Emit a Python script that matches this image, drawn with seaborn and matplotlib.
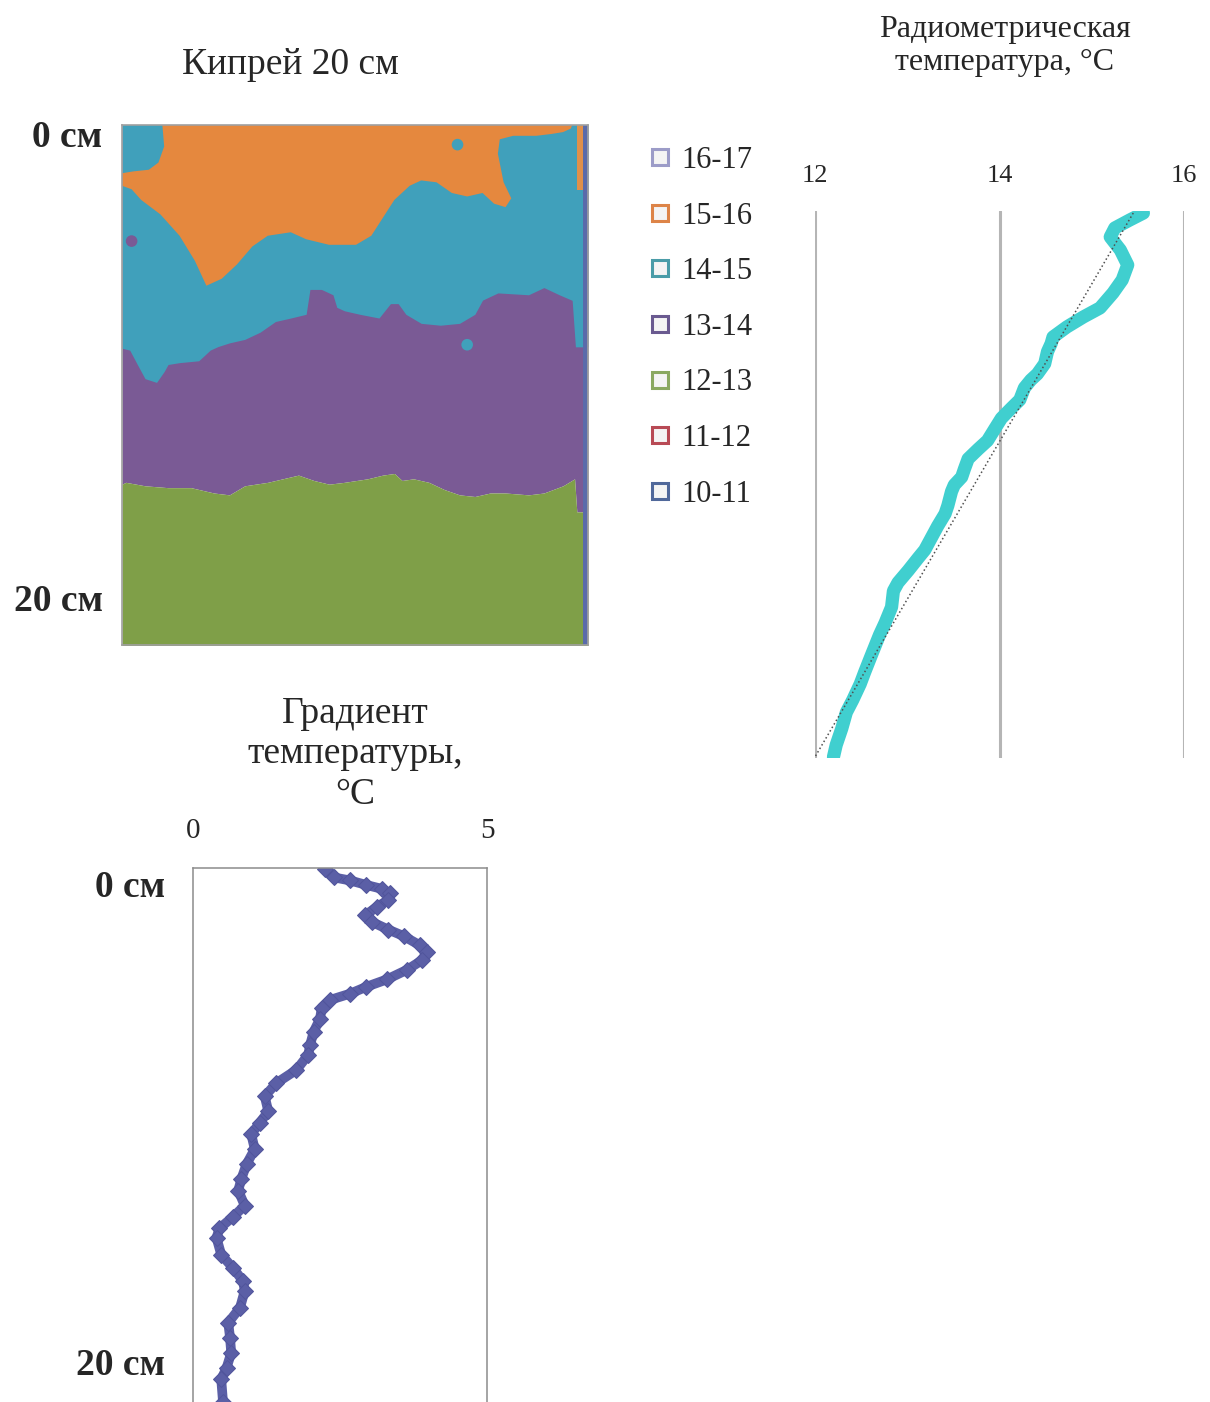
import numpy as np
import matplotlib
matplotlib.use("Agg")
import matplotlib.pyplot as plt
import seaborn as sns
from matplotlib.lines import Line2D

# ---------------- data ----------------
# Legend categories (°C ranges) and their colours
categories = ["16-17", "15-16", "14-15", "13-14", "12-13", "11-12", "10-11"]
legend_edge = ["#9c9cc8", "#dd8448", "#4a9ca8", "#6a5a90", "#8aa860", "#b84a55", "#50689a"]

# Thermal map "Кипрей 20 см": class boundaries, x = % of width, y = depth, cm
# boundary 13-14 / 12-13
pg_x = [0, 0.82, 4.94, 9.88, 14.81, 19.75, 23.05, 26.34, 31.28, 37.86, 41.15, 44.44, 47.74,
        52.67, 55.97, 58.44, 60.08, 62.55, 65.84, 69.14, 72.43, 75.72, 79.01, 82.30, 87.24,
        90.53, 94.65, 97.12, 97.6, 100]
pg_y = [15.11, 15.03, 15.18, 15.26, 15.26, 15.49, 15.57, 15.18, 15.03, 14.72, 14.95, 15.11, 15.03,
        14.88, 14.72, 14.65, 14.95, 14.88, 15.03, 15.34, 15.57, 15.64, 15.49, 15.49, 15.57,
        15.49, 15.18, 14.88, 16.3, 16.3]
# boundary 14-15 / 13-14
tp_x = [0, 1.65, 3.29, 4.94, 7.41, 9.05, 9.88, 12.35, 16.46, 18.93, 20.58, 23.05, 26.34, 29.63,
        32.92, 36.21, 39.51, 40.33, 42.80, 45.27, 46.09, 47.74, 51.03, 55.14, 57.61, 59.26, 60.91,
        64.20, 68.31, 72.43, 75.72, 77.37, 80.66, 87.24, 90.53, 93.83, 96.6, 97.3, 100]
tp_y = [9.26, 9.34, 9.96, 10.57, 10.73, 10.26, 9.96, 9.88, 9.80, 9.34, 9.19, 9.03, 8.88, 8.57,
        8.11, 7.96, 7.80, 6.73, 6.73, 6.96, 7.50, 7.65, 7.80, 7.96, 7.34, 7.34, 7.80,
        8.19, 8.27, 8.19, 7.80, 7.19, 6.88, 6.96, 6.65, 6.96, 7.2, 9.2, 9.2]
# outline of the 15-16 zone
or_x = [8.64, 9.05, 7.82, 5.76, 2.47, 0, 0, 2.06, 4.12, 8.23, 12.35, 15.64, 18.11, 21.40, 24.69,
        27.98, 31.28, 36.21, 39.51, 44.44, 50.21, 53.50, 55.97, 58.44, 61.73, 64.20, 67.49,
        70.78, 74.07, 77.37, 79.84, 82.30, 83.54, 81.89, 80.66, 81.07, 83.95, 88.89, 92.18,
        94.65, 96.30, 96.71]
or_y = [-0.4, 0.58, 1.27, 1.58, 1.65, 1.73, 2.27, 2.42, 2.88, 3.50, 4.42, 5.50, 6.57, 6.27, 5.65,
        4.88, 4.42, 4.27, 4.57, 4.81, 4.81, 4.42, 3.65, 2.88, 2.27, 2.04, 2.12,
        2.58, 2.73, 2.58, 3.04, 3.19, 2.81, 2.12, 0.89, 0.27, 0.12, 0.12, 0.04,
        -0.04, -0.19, -0.4]
# small isolated spots
blob_x = [72.0, 2.06, 74.07]
blob_y = [0.50, 4.65, 9.11]
blob_cat = ["14-15", "13-14", "14-15"]
# strips at the right edge of the image
edge_band_x = [97.6, 98.9]
edge_band_depth = 2.45
edge_strip_x = [98.9, 100.0]

# Radiometric temperature profile
rad_depth = [0, 0.26, 0.55, 0.88, 1.36, 1.91, 2.46, 2.94, 3.49, 3.82, 4.19, 4.56, 4.80, 5.10,
             5.54, 5.92, 6.14, 6.43, 6.87, 7.17, 7.55, 7.93, 8.37, 8.68, 9.04, 9.41, 9.71,
             10.0, 10.24, 10.76, 11.06, 11.51, 11.95, 12.39, 12.68, 13.15, 13.59, 13.90,
             14.49, 15.07, 15.51, 16.27, 16.87, 17.32, 17.90, 18.36, 18.96, 19.56, 20.0]
rad_temp = [15.56, 15.41, 15.25, 15.20, 15.31, 15.39, 15.33, 15.23, 15.09, 14.91, 14.73, 14.58,
            14.56, 14.52, 14.49, 14.41, 14.34, 14.27, 14.22, 14.13, 14.02, 13.95, 13.87, 13.77,
            13.66, 13.62, 13.59, 13.51, 13.48, 13.44, 13.41, 13.33, 13.26, 13.19, 13.12, 13.01,
            12.90, 12.85, 12.83, 12.76, 12.70, 12.61, 12.54, 12.49, 12.41, 12.34, 12.29, 12.23,
            12.20]
rad_ticks = [12, 14, 16]
# linear trend line
trend_depth = [0, 20]
trend_temp = [15.45, 12.0]

# Temperature gradient profile
grad_depth = [0.05, 0.39, 0.52, 0.71, 0.87, 1.06, 1.34, 1.62, 1.97, 2.25, 2.57, 2.84, 3.23, 3.51,
              3.86, 4.25, 4.65, 4.96, 5.25, 5.51, 5.83, 6.30, 6.85, 7.41, 7.80, 8.43, 8.98,
              9.53, 10.16, 10.63, 11.11, 11.74, 12.37, 13.00, 13.47, 14.10, 14.57, 15.05,
              15.44, 16.15, 16.70, 17.25, 17.65, 18.36, 18.99, 19.62, 20.25, 20.88, 21.35, 22.29]
grad_val = [2.24, 2.39, 2.67, 2.95, 3.21, 3.35, 3.32, 3.13, 2.93, 3.04, 3.32, 3.58, 3.86, 3.98,
            3.89, 3.64, 3.30, 2.95, 2.67, 2.33, 2.19, 2.16, 2.05, 1.99, 1.96, 1.76, 1.42,
            1.22, 1.28, 1.14, 0.99, 1.05, 0.91, 0.82, 0.77, 0.88, 0.68, 0.45,
            0.40, 0.48, 0.68, 0.85, 0.88, 0.80, 0.60, 0.63, 0.65, 0.57, 0.48, 0.51]
grad_ticks = [0, 5]

# ---------------- style ----------------
sns.set_theme(style="white")
plt.rcParams["font.family"] = ["Liberation Serif", "DejaVu Serif"]

fill_col = {"16-17": "#a5a5d8", "15-16": "#e5883e", "14-15": "#40a0bb", "13-14": "#7a5a95",
            "12-13": "#7f9f48", "11-12": "#c0504d", "10-11": "#5a6baa"}

W, H = 1210, 1402
fig = plt.figure(figsize=(W / 100, H / 100), dpi=100)


def rect(l, t, r, b):
    return [l / W, 1 - b / H, (r - l) / W, (b - t) / H]


# ---------------- thermal map ----------------
ax1 = fig.add_axes(rect(122, 125, 588, 645))
ytop, ybot = -0.345, 22.03
ax1.set_xlim(0, 100)
ax1.set_ylim(ybot, ytop)
ax1.fill_between(pg_x, ytop - 1, pg_y, color=fill_col["13-14"], lw=0)
ax1.fill_between(pg_x, pg_y, ybot + 1, color=fill_col["12-13"], lw=0)
ax1.fill_between(tp_x, ytop - 1, tp_y, color=fill_col["14-15"], lw=0)
ax1.fill(or_x, or_y, color=fill_col["15-16"], lw=0)
ax1.fill_between(edge_band_x, ytop - 1, edge_band_depth, color="#e0904a", lw=0)
ax1.axvspan(edge_strip_x[0], edge_strip_x[1], color=fill_col["10-11"], lw=0)
sns.scatterplot(x=blob_x, y=blob_y, hue=blob_cat, palette=fill_col, s=70, linewidth=0,
                legend=False, ax=ax1)
ax1.set_xticks([])
ax1.set_yticks([0, 20])
ax1.set_yticklabels(["0 см", "20 см"], fontsize=27, fontweight="bold")
ax1.tick_params(axis="y", length=0, pad=14)
for s in ax1.spines.values():
    s.set_color("#a0a0a0")
    s.set_linewidth(1.2)
ax1.set_xlabel("")
ax1.set_ylabel("")
fig.text(290 / W, 1 - 65 / H, "Кипрей 20 см", ha="center", va="center", fontsize=27)

# legend
handles = [Line2D([], [], marker="s", linestyle="none", markersize=11,
                  markerfacecolor="#f4f4f4", markeredgecolor=c, markeredgewidth=2.2)
           for c in legend_edge]
fig.legend(handles, categories, loc="upper left", bbox_to_anchor=(648 / W, 1 - 146 / H),
           frameon=False, fontsize=22, labelspacing=0.87, handlelength=0.8,
           handletextpad=0.3, borderpad=0, borderaxespad=0)

# ---------------- radiometric temperature ----------------
ax2 = fig.add_axes(rect(815, 211, 1184, 758))
sns.lineplot(x=rad_temp, y=rad_depth, sort=False, estimator=None, orient="y",
             color="#40cfcf", lw=9.5, solid_capstyle="round", solid_joinstyle="round", ax=ax2)
ax2.plot(trend_temp, trend_depth, ls=":", color="#505050", lw=1.1)
ax2.set_xlim(12, 16)
ax2.set_ylim(20.04, -0.074)
ax2.set_xticks(rad_ticks)
ax2.set_yticks([])
ax2.xaxis.tick_top()
ax2.tick_params(axis="x", length=0, pad=17, labelsize=19)
ax2.grid(axis="x", color="#b5b5b5", lw=2.2)
ax2.grid(axis="y", visible=False)
for s in ax2.spines.values():
    s.set_visible(False)
ax2.set_xlabel("")
ax2.set_ylabel("")
fig.text(1005 / W, 1 - 46 / H, "Радиометрическая\nтемпература, °C", ha="center", va="center",
         fontsize=23, linespacing=1.17)

# ---------------- gradient ----------------
ax3 = fig.add_axes(rect(193, 868, 487, 1430))
sns.lineplot(x=grad_val, y=grad_depth, sort=False, estimator=None, orient="y",
             color="#5b5fa6", lw=7, marker="D", markersize=8, markeredgecolor="#51559c",
             solid_joinstyle="round", ax=ax3)
ax3.set_xlim(0, 5)
ax3.set_ylim(23.47, 0)
ax3.set_xticks(grad_ticks)
ax3.xaxis.tick_top()
ax3.tick_params(axis="x", length=0, pad=17, labelsize=21)
ax3.set_yticks([0.63, 20.63])
ax3.set_yticklabels(["0 см", "20 см"], fontsize=27, fontweight="bold")
ax3.tick_params(axis="y", length=0, pad=20)
for s in ax3.spines.values():
    s.set_color("#8c8c8c")
    s.set_linewidth(1.1)
ax3.set_xlabel("")
ax3.set_ylabel("")
fig.text(355 / W, 1 - 754 / H, "Градиент\nтемпературы,\n°C", ha="center", va="center",
         fontsize=27, linespacing=1.235)

fig.savefig("out.png", dpi=100)
